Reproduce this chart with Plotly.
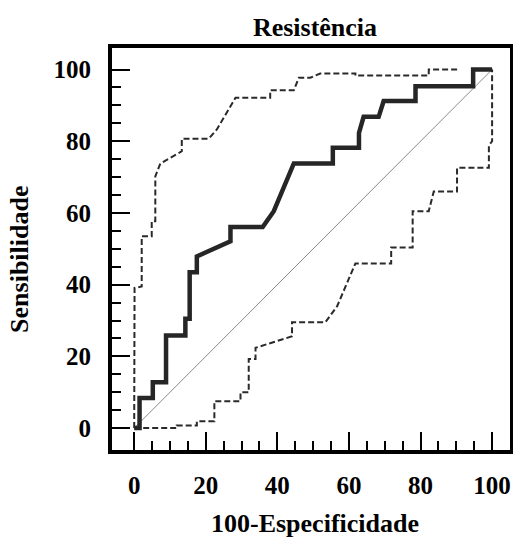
import plotly.graph_objects as go

# ROC curve (100-specificity vs sensitivity)
roc_x = [0, 1.5, 1.5, 5.2, 5.2, 8.9, 8.9, 14.3, 14.3, 15.5, 15.5, 17.5, 17.5,
         26.9, 26.9, 35.9, 39.0, 44.6, 55.5, 55.5, 62.8, 62.8, 64.1, 68.3,
         69.7, 78.6, 78.6, 94.7, 94.7, 100]
roc_y = [0, 0, 8.4, 8.4, 12.8, 12.8, 25.8, 25.8, 30.5, 30.5, 43.5, 43.5, 47.9,
         52.1, 56.1, 56.1, 60.5, 73.8, 73.8, 78.2, 78.2, 82.3, 86.8, 86.8,
         91.2, 91.2, 95.3, 95.3, 100, 100]

# upper confidence band
upper_x = [0, 0.1, 2.1, 2.1, 4.9, 4.9, 5.9, 5.9, 7.3, 13.3, 13.3, 20.8, 23.1,
           28.3, 38.0, 38.0, 44.6, 46.0, 49.2, 52.0, 61.8, 61.8, 82.3, 82.3, 90.7]
upper_y = [0, 39.1, 39.5, 53.5, 53.5, 57.7, 57.7, 70.2, 73.8, 77.2, 80.7, 80.7,
           83.3, 92.1, 92.1, 94.2, 94.2, 97.7, 97.7, 98.9, 98.9, 98.3, 98.3,
           100, 100]

# lower confidence band
lower_x = [0, 11.9, 11.9, 17.5, 17.5, 22.4, 22.4, 29.7, 29.7, 32.0, 32.0, 33.9,
           33.9, 44.1, 44.1, 53.4, 56.7, 59.5, 61.8, 71.8, 71.8, 77.8, 77.8,
           82.3, 83.7, 90.2, 90.2, 99.1, 99.1, 100, 100]
lower_y = [0, 0, 0.7, 0.7, 1.9, 1.9, 7.5, 7.5, 10.0, 10.0, 19.3, 19.3, 22.4,
           25.6, 29.5, 29.5, 34.0, 40.5, 45.9, 45.9, 50.4, 50.4, 60.5, 60.5,
           66.0, 66.0, 72.6, 72.6, 78.8, 80.0, 100]

diag = [0, 100]
tick_vals = [0, 20, 40, 60, 80, 100]
minor_vals = [5, 10, 15, 25, 30, 35, 45, 50, 55, 65, 70, 75, 85, 90, 95]

FONT = "Liberation Serif"

fig = go.Figure()

fig.add_trace(go.Scatter(x=diag, y=diag, mode="lines",
                         line=dict(color="#8a8a8a", width=1), hoverinfo="skip"))
fig.add_trace(go.Scatter(x=upper_x, y=upper_y, mode="lines",
                         line=dict(color="#2a2a2a", width=2, dash="6px,3px")))
fig.add_trace(go.Scatter(x=lower_x, y=lower_y, mode="lines",
                         line=dict(color="#2a2a2a", width=2, dash="6px,3px")))
fig.add_trace(go.Scatter(x=roc_x, y=roc_y, mode="lines",
                         line=dict(color="#262626", width=4.5)))

axis_common = dict(
    tickvals=tick_vals,
    ticks="inside",
    ticklen=18,
    tickwidth=2,
    tickcolor="black",
    minor=dict(tickvals=minor_vals, ticks="inside", ticklen=9, tickwidth=2,
               tickcolor="black"),
    showline=True,
    linewidth=4,
    linecolor="black",
    mirror=True,
    showgrid=False,
    zeroline=False,
    automargin=False,
    tickfont=dict(family=FONT, size=25, color="black", weight="bold"),
)

fig.update_xaxes(range=[-6.2, 105], ticklabelstandoff=10, **axis_common)
fig.update_yaxes(range=[-6.1, 106], ticklabelstandoff=12, **axis_common)

title_font = dict(family=FONT, size=26, color="black")
# axis titles placed as annotations so the margins stay fixed
fig.add_annotation(text="<b>100-Especificidade</b>", xref="paper", yref="paper",
                   x=0.51, y=-0.182, xanchor="center", yanchor="middle",
                   showarrow=False, font=title_font)
fig.add_annotation(text="<b>Sensibilidade</b>", xref="paper", yref="paper",
                   x=-0.231, y=0.473, xanchor="center", yanchor="middle",
                   textangle=-90, showarrow=False, font=title_font)

fig.update_layout(
    width=513,
    height=538,
    margin=dict(l=112, r=3, t=48, b=88),
    title=dict(text="<b>Resistência</b>", x=0.614, xanchor="center",
               y=1 - 27 / 538, yanchor="middle",
               font=dict(family=FONT, size=26, color="black")),
    showlegend=False,
    plot_bgcolor="white",
    paper_bgcolor="white",
)

# drop the browser's default body margin so the figure fills the window
fig.write_html("out.html",
               config={"displayModeBar": False},
               post_script="document.body.style.margin='0';"
                           "document.body.style.overflow='hidden';")
